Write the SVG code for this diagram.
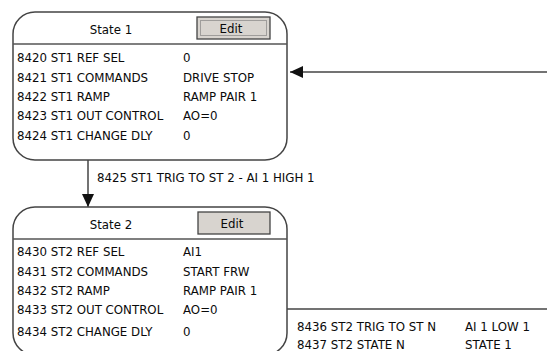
<svg xmlns="http://www.w3.org/2000/svg" width="547" height="351" viewBox="0 0 547 351">
<style>
text{font-family:"DejaVu Sans",Verdana,sans-serif;font-size:11.8px;fill:#0a0a0a}
.box{fill:#fff;stroke:#444;stroke-width:1.5}
.div{stroke:#555;stroke-width:1.3}
.btn{fill:#d8d4cf;stroke:#444;stroke-width:1.3}
.focus{fill:none;stroke:#666;stroke-width:1;stroke-dasharray:1 1}
.ln{stroke:#444;stroke-width:1.5;fill:none}
.c{text-anchor:middle}
</style>
<defs>
<marker id="ah" markerWidth="14" markerHeight="12" refX="13" refY="6" orient="auto" markerUnits="userSpaceOnUse">
<path d="M0,0 L13,6 L0,12 Z" fill="#111"/>
</marker>
</defs>
<rect width="547" height="351" fill="#fff"/>
<g id="connectors">
<line class="ln" x1="547" y1="72" x2="290" y2="72" marker-end="url(#ah)"/>
<line class="ln" x1="88" y1="160" x2="88" y2="207" marker-end="url(#ah)"/>
<text x="97" y="182">8425 ST1 TRIG TO ST 2 - AI 1 HIGH 1</text>
<line class="ln" x1="286" y1="309" x2="547" y2="309"/>
<text x="297" y="331">8436 ST2 TRIG TO ST N</text>
<text x="465" y="331">AI 1 LOW 1</text>
<text x="297" y="349">8437 ST2 STATE N</text>
<text x="465" y="349">STATE 1</text>
</g>
<g id="state1">
<rect class="box" x="13" y="12" width="274" height="148" rx="22" ry="22"/>
<line class="div" x1="13" y1="44" x2="287" y2="44"/>
<text class="c" x="111" y="34">State 1</text>
<rect class="btn" x="197" y="17" width="73" height="22"/>
<rect class="focus" x="200.5" y="20.5" width="66" height="15"/>
<text class="c" x="231" y="33">Edit</text>
<text x="17" y="62">8420 ST1 REF SEL</text><text x="183" y="62">0</text>
<text x="17" y="82">8421 ST1 COMMANDS</text><text x="183" y="82">DRIVE STOP</text>
<text x="17" y="101">8422 ST1 RAMP</text><text x="183" y="101">RAMP PAIR 1</text>
<text x="17" y="120">8423 ST1 OUT CONTROL</text><text x="183" y="120">AO=0</text>
<text x="17" y="140">8424 ST1 CHANGE DLY</text><text x="183" y="140">0</text>
</g>
<g id="state2">
<rect class="box" x="13" y="207" width="274" height="148" rx="22" ry="22"/>
<line class="div" x1="13" y1="239" x2="287" y2="239"/>
<text class="c" x="111" y="229">State 2</text>
<rect class="btn" x="198" y="212" width="72" height="22"/>
<text class="c" x="232" y="228">Edit</text>
<text x="17" y="256">8430 ST2 REF SEL</text><text x="183" y="256">AI1</text>
<text x="17" y="276">8431 ST2 COMMANDS</text><text x="183" y="276">START FRW</text>
<text x="17" y="295">8432 ST2 RAMP</text><text x="183" y="295">RAMP PAIR 1</text>
<text x="17" y="314">8433 ST2 OUT CONTROL</text><text x="183" y="314">AO=0</text>
<text x="17" y="336">8434 ST2 CHANGE DLY</text><text x="183" y="336">0</text>
</g>
</svg>
